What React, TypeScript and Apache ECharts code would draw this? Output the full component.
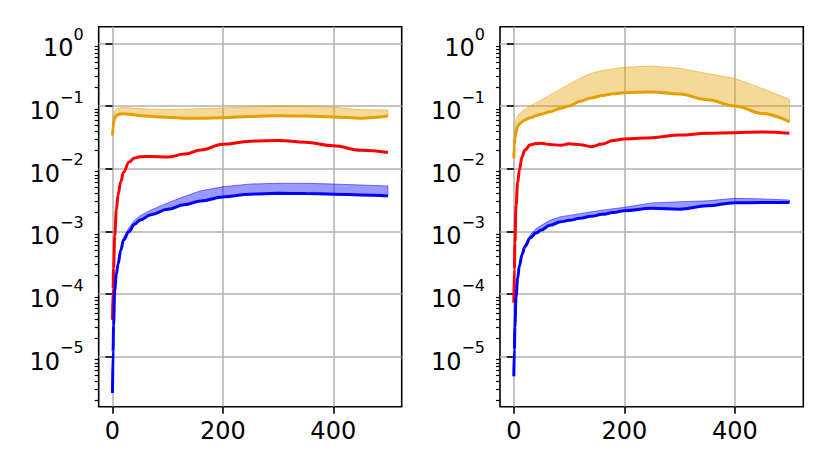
import React, { useEffect, useRef } from "react";
import * as echarts from "echarts";

// ---------- data ----------
const leftX = [0, 1, 2, 4, 7, 10, 15, 20, 30, 40, 50, 70, 100, 130, 160, 200, 250, 300, 350, 400, 450, 499];
const leftOrange = [0.034, 0.045, 0.055, 0.064, 0.07, 0.073, 0.0745, 0.075, 0.074, 0.072, 0.07, 0.068, 0.066, 0.064, 0.064, 0.065, 0.068, 0.07, 0.069, 0.067, 0.064, 0.069];
const leftOrangeUpper = [0.034, 0.05, 0.065, 0.082, 0.09, 0.092, 0.094, 0.095, 0.094, 0.092, 0.091, 0.089, 0.088, 0.089, 0.091, 0.093, 0.097, 0.101, 0.1, 0.096, 0.087, 0.086];
const leftRed = [3.9e-5, 1.2e-4, 2.6e-4, 8.5e-4, 2.2e-3, 3.8e-3, 6.2e-3, 8.8e-3, 0.0128, 0.0148, 0.0155, 0.0157, 0.0153, 0.0171, 0.0199, 0.0245, 0.0275, 0.0283, 0.0265, 0.0232, 0.0197, 0.0182];
const leftBlue = [2.65e-6, 1.2e-5, 3.2e-5, 1.15e-4, 2.1e-4, 3.0e-4, 5.0e-4, 7.3e-4, 1.0e-3, 1.3e-3, 1.52e-3, 1.85e-3, 2.25e-3, 2.65e-3, 3.05e-3, 3.55e-3, 3.93e-3, 4.05e-3, 4.02e-3, 3.93e-3, 3.8e-3, 3.68e-3];
const leftBlueUpper = [2.65e-6, 1.2e-5, 3.2e-5, 1.15e-4, 2.15e-4, 3.2e-4, 5.4e-4, 8.0e-4, 1.15e-3, 1.5e-3, 1.78e-3, 2.2e-3, 2.85e-3, 3.6e-3, 4.45e-3, 5.15e-3, 5.7e-3, 5.85e-3, 5.85e-3, 5.7e-3, 5.5e-3, 5.3e-3];

const rightX = [0, 1, 2, 4, 7, 10, 15, 20, 30, 40, 50, 65, 85, 100, 120, 140, 160, 180, 200, 250, 300, 350, 400, 450, 499];
const rightOrange = [0.0147, 0.024, 0.031, 0.038, 0.047, 0.052, 0.056, 0.06, 0.065, 0.07, 0.074, 0.081, 0.092, 0.1, 0.119, 0.134, 0.147, 0.157, 0.163, 0.168, 0.155, 0.126, 0.1, 0.076, 0.056];
const rightOrangeUpper = [0.0147, 0.03, 0.045, 0.06, 0.068, 0.075, 0.082, 0.088, 0.1, 0.112, 0.125, 0.149, 0.187, 0.222, 0.278, 0.333, 0.367, 0.392, 0.414, 0.435, 0.4, 0.33, 0.277, 0.19, 0.128];
const rightRed = [7.3e-5, 2.5e-4, 6.5e-4, 2.6e-3, 6.0e-3, 9.5e-3, 0.0155, 0.0199, 0.024, 0.0252, 0.0254, 0.0244, 0.0236, 0.0249, 0.0242, 0.0224, 0.0247, 0.0283, 0.0298, 0.0312, 0.0345, 0.0367, 0.0375, 0.0385, 0.0367];
const rightBlue = [4.9e-6, 1.3e-5, 3.0e-5, 9.0e-5, 1.8e-4, 2.8e-4, 4.3e-4, 5.7e-4, 7.9e-4, 9.4e-4, 1.05e-3, 1.25e-3, 1.42e-3, 1.5e-3, 1.62e-3, 1.74e-3, 1.87e-3, 2.0e-3, 2.14e-3, 2.33e-3, 2.25e-3, 2.56e-3, 2.87e-3, 2.88e-3, 2.9e-3];
const rightBlueUpper = [4.9e-6, 1.3e-5, 3.0e-5, 9.0e-5, 1.85e-4, 2.9e-4, 4.6e-4, 6.2e-4, 8.9e-4, 1.1e-3, 1.25e-3, 1.5e-3, 1.72e-3, 1.8e-3, 1.92e-3, 2.05e-3, 2.18e-3, 2.3e-3, 2.42e-3, 2.85e-3, 2.97e-3, 3.07e-3, 3.37e-3, 3.3e-3, 3.16e-3];

const xTicks = [0, 200, 400];
const yMajorTicks = [1e-5, 1e-4, 1e-3, 1e-2, 1e-1, 1];
const yDecades = [1e-6, 1e-5, 1e-4, 1e-3, 1e-2, 1e-1, 1];
const yMinorMultipliers = [2, 3, 4, 5, 6, 7, 8, 9];

const X_MIN = -25;
const X_MAX = 524;
const Y_MIN = 1.6e-6;
const Y_MAX = 1.84;

const ORANGE = "#e69f00";
const RED = "#ff0000";
const BLUE = "#0000ff";
const FONT = "DejaVu Sans";

const yMinorTicks: number[] = [];
yDecades.forEach((d) =>
  yMinorMultipliers.forEach((m) => {
    const v = m * d;
    if (v > Y_MIN && v < Y_MAX) yMinorTicks.push(v);
  })
);

const pairs = (xs: number[], ys: number[]) => xs.map((x, i) => [x, ys[i]]);

function logLabel(v: number) {
  const e = Math.round(Math.log10(v));
  const s = e < 0 ? "\u2212" + -e : String(e);
  return "{b|10}{s|" + s + "}";
}

function buildPlot(g: number, xs: number[], orange: number[], orangeUp: number[], red: number[], blue: number[], blueUp: number[]) {
  const yMain = g * 2;
  const band = (upper: number[], lower: number[], fill: string, edge: string, z: number) => ({
    type: "custom",
    xAxisIndex: g,
    yAxisIndex: yMain,
    silent: true,
    z,
    data: [[xs[0], upper[0]]],
    renderItem: (_params: any, api: any) => {
      const top = xs.map((x, i) => api.coord([x, upper[i]]));
      const bot = xs.map((x, i) => api.coord([x, lower[i]])).reverse();
      return {
        type: "polygon",
        shape: { points: top.concat(bot) },
        style: { fill, stroke: edge, lineWidth: 1 },
      };
    },
  });
  const line = (ys: number[], color: string, z: number) => ({
    type: "line",
    xAxisIndex: g,
    yAxisIndex: yMain,
    data: pairs(xs, ys),
    showSymbol: false,
    symbol: "none",
    smooth: 0.4,
    smoothMonotone: "x",
    silent: true,
    z,
    lineStyle: { color, width: 3 },
  });
  return [
    band(orangeUp, orange, "rgba(230,159,0,0.4)", "rgba(230,159,0,0.5)", 2),
    line(orange, ORANGE, 3),
    line(red, RED, 3),
    band(blueUp, blue, "rgba(0,0,255,0.4)", "rgba(0,0,255,0.5)", 4),
    line(blue, BLUE, 5),
  ];
}

const gridLine = { show: true, lineStyle: { color: "#b0b0b0", width: 1.5 } };

function xAxisFor(g: number) {
  return {
    type: "value",
    gridIndex: g,
    min: X_MIN,
    max: X_MAX,
    interval: 200,
    axisLine: { show: false },
    axisTick: { show: true, length: 7, customValues: xTicks, lineStyle: { color: "#000", width: 1.6 } },
    axisLabel: { customValues: xTicks, fontSize: 24, fontFamily: FONT, color: "#000", margin: 12 },
    splitLine: gridLine,
  };
}

function yAxesFor(g: number) {
  return [
    {
      type: "log",
      logBase: 10,
      gridIndex: g,
      min: Y_MIN,
      max: Y_MAX,
      position: "left",
      axisLine: { show: false },
      axisTick: { show: true, length: 7, customValues: yMajorTicks, lineStyle: { color: "#000", width: 1.6 } },
      axisLabel: {
        customValues: yMajorTicks,
        formatter: logLabel,
        margin: 15,
        rich: {
          b: { fontSize: 24, fontFamily: FONT, color: "#000", lineHeight: 34, verticalAlign: "bottom" },
          s: { fontSize: 16, fontFamily: FONT, color: "#000", lineHeight: 16, verticalAlign: "top" },
        },
      },
      splitLine: gridLine,
    },
    {
      type: "log",
      logBase: 10,
      gridIndex: g,
      min: Y_MIN,
      max: Y_MAX,
      position: "left",
      offset: 0,
      axisLine: { show: false },
      axisTick: { show: true, length: 4, customValues: yMinorTicks, lineStyle: { color: "#000", width: 1.2 } },
      axisLabel: { show: false },
      splitLine: { show: false },
    },
  ];
}

export default function App() {
  const ref = useRef<HTMLDivElement>(null);
  useEffect(() => {
    if (!ref.current) return;
    const chart = echarts.init(ref.current, undefined, { renderer: "svg" });
    const gridBase = { show: true, borderColor: "#000", borderWidth: 1.6, backgroundColor: "transparent", top: 26.7, height: 380 };
    chart.setOption({
      animation: false,
      backgroundColor: "#fff",
      grid: [
        { ...gridBase, left: 98.7, width: 303 },
        { ...gridBase, left: 500, width: 303.3 },
      ],
      xAxis: [xAxisFor(0), xAxisFor(1)],
      yAxis: [...yAxesFor(0), ...yAxesFor(1)],
      series: [
        ...buildPlot(0, leftX, leftOrange, leftOrangeUpper, leftRed, leftBlue, leftBlueUpper),
        ...buildPlot(1, rightX, rightOrange, rightOrangeUpper, rightRed, rightBlue, rightBlueUpper),
      ],
    });
    return () => chart.dispose();
  }, []);
  return <div ref={ref} style={{ position: "fixed", left: 0, top: 0, width: 830, height: 471 }} />;
}
